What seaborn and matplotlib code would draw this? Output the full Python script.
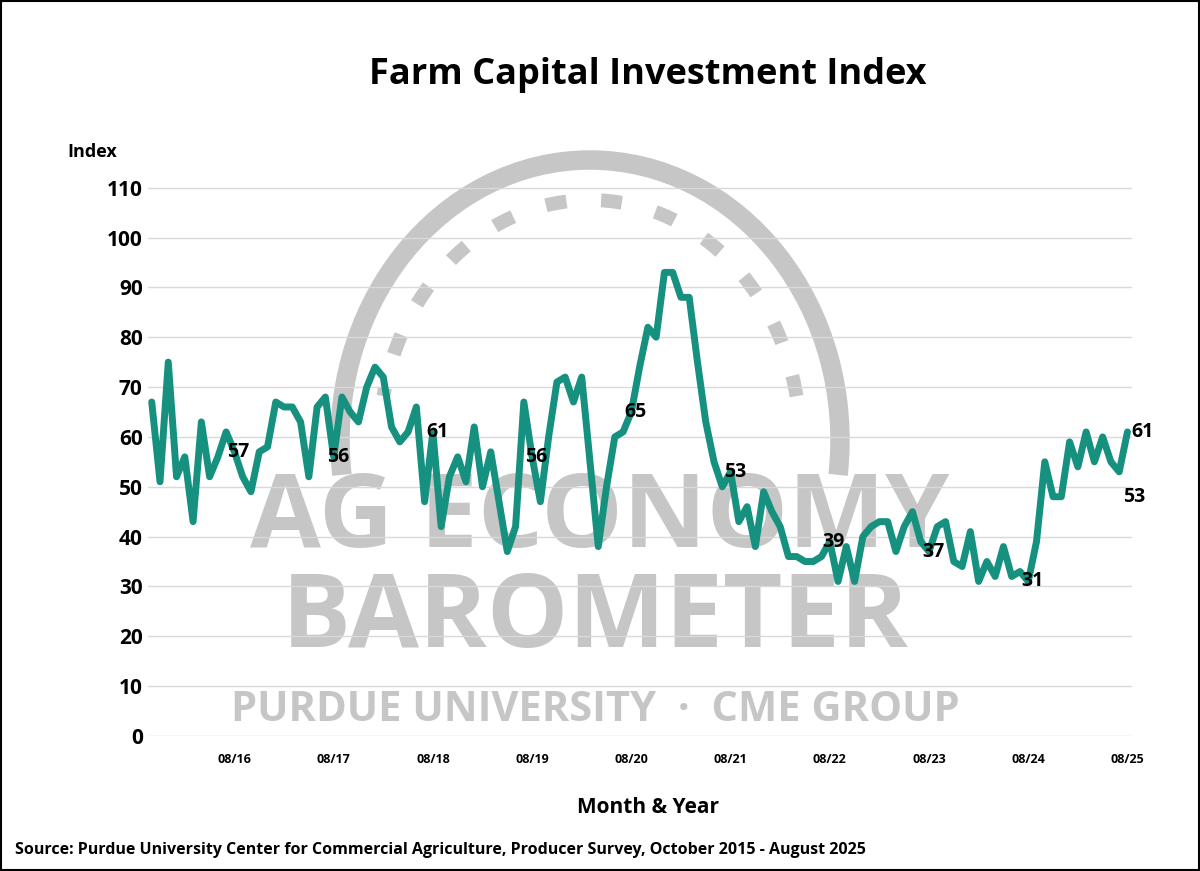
import matplotlib
matplotlib.use("Agg")
import matplotlib.pyplot as plt
import seaborn as sns
import numpy as np
import pandas as pd
from matplotlib.patches import Arc, Rectangle

values = [67,51,75,52,56,43,63,52,56,61,
          57,52,49,57,58,67,66,66,63,52,66,68,
          56,68,65,63,70,74,72,62,59,61,66,47,
          61,42,52,56,51,62,50,57,47,37,42,67,
          56,47,60,71,72,67,72,55,38,50,60,61,
          65,74,82,80,93,93,88,88,75,63,55,50,
          53,43,46,38,49,45,42,36,36,35,35,36,
          39,31,38,31,40,42,43,43,37,42,45,39,
          37,42,43,35,34,41,31,35,32,38,32,33,
          31,39,55,48,48,59,54,61,55,60,55,53,
          61]
tick_labels = ["08/16","08/17","08/18","08/19","08/20","08/21","08/22","08/23","08/24","08/25"]
label_idx = [10,22,34,46,58,70,82,94,106,117,118]
label_txt = ["57","56","61","56","65","53","39","37","31","53","61"]

sns.set_theme(style="white")
plt.rcParams['font.family'] = ['Open Sans', 'DejaVu Sans']
plt.rcParams['text.color'] = 'black'
plt.rcParams['xtick.color'] = 'black'
plt.rcParams['ytick.color'] = 'black'

df = pd.DataFrame({"m": np.arange(len(values)), "v": values})
fig = plt.figure(figsize=(12, 8.71), dpi=100)

# watermark on a background axes (pixel coords, y measured from bottom)
H = 871
bg = fig.add_axes([0, 0, 1, 1], zorder=0)
bg.set_axis_off()
bg.set_xlim(0, 1200); bg.set_ylim(0, H)
wm = dict(color="#c6c6c6", fontweight="bold", ha="center", va="center")
bg.add_patch(Arc((590, H - 440), 500, 560, theta1=-8, theta2=188, color="#c6c6c6", lw=14))
bg.add_patch(Arc((590, H - 440), 420, 480, theta1=12, theta2=168, color="#c6c6c6", lw=10, ls=(0, (1.5, 2.5))))
bg.text(600, H - 520, "AG ECONOMY", fontsize=74, **wm)
bg.text(595, H - 620, "BAROMETER", fontsize=74, **wm)
bg.text(595, H - 710, "PURDUE UNIVERSITY  ·  CME GROUP", fontsize=30, **wm)

ax = fig.add_axes([0.123, 0.155, 0.82, 0.641], zorder=2)
sns.lineplot(data=df, x="m", y="v", ax=ax, color="#16917f", lw=5, zorder=3)
for i, t in zip(label_idx, label_txt):
    dy = -5 if i == 117 else 0
    ax.text(i + 0.5, values[i] + dy, t, fontsize=14, fontweight="bold",
            ha="left" if i >= 117 else "center", va="center", zorder=4)

ax.set_xlim(-0.5, 118.5)
ax.set_ylim(0, 112)
ax.set_yticks(range(0, 111, 10))
ax.set_xticks(label_idx[:9] + [118])
ax.set_xticklabels(tick_labels, fontsize=9, fontweight="bold")
ax.tick_params(axis="y", labelsize=15, length=0)
ax.tick_params(axis="x", length=0, pad=12)
for l in ax.get_yticklabels():
    l.set_fontweight("bold")
ax.grid(axis="y", color="#d9d9d9", lw=1)
ax.set_facecolor("none")
for s in ax.spines.values():
    s.set_visible(False)
ax.set_xlabel("")
ax.set_ylabel("")

fig.text(0.54, 1-75/871, "Farm Capital Investment Index", fontsize=26, fontweight="bold", ha="center", va="center")
fig.text(92/1200, 1-152/871, "Index", fontsize=13, fontweight="bold", ha="center", va="center")
fig.text(0.54, 1-807/871, "Month & Year", fontsize=15, fontweight="bold", ha="center", va="center")
fig.text(15/1200, 1-850/871, "Source: Purdue University Center for Commercial Agriculture, Producer Survey, October 2015 - August 2025",
         fontsize=11.5, fontweight="bold", ha="left", va="center")
fig.add_artist(Rectangle((0.001, 0.001), 0.998, 0.998, transform=fig.transFigure,
                         fill=False, ec="black", lw=1.5))
fig.savefig("out.png", dpi=100)
